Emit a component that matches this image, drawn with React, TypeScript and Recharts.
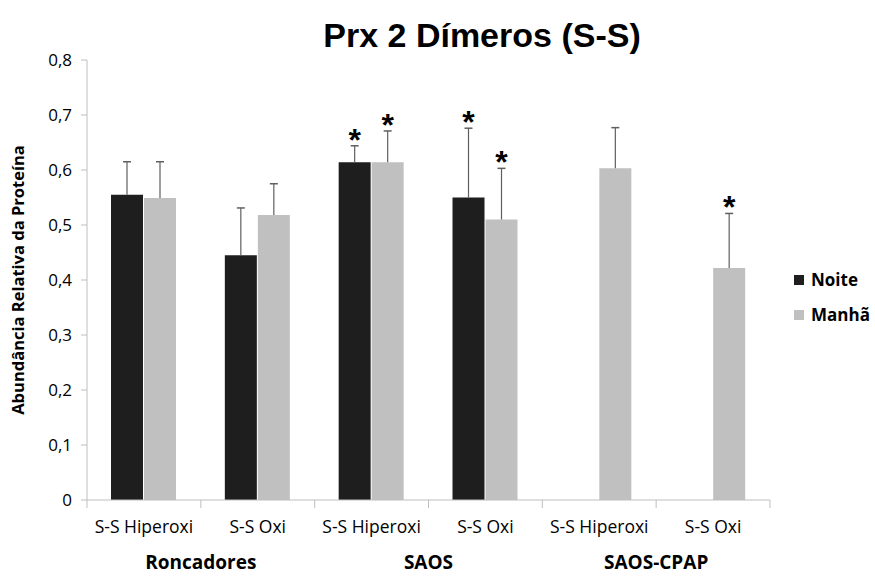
import { Bar, BarChart, LabelList, Label, XAxis, YAxis } from "recharts";

const categories = ["S-S Hiperoxi", "S-S Oxi", "S-S Hiperoxi", "S-S Oxi", "S-S Hiperoxi", "S-S Oxi"];
const groups = ["Roncadores", "SAOS", "SAOS-CPAP"];

const noite = [0.555, 0.445, 0.614, 0.55, null, null];
const noiteErr = [0.06, 0.086, 0.03, 0.126, null, null];
const noiteSig = [false, false, true, true, false, false];

const manha = [0.549, 0.518, 0.614, 0.51, 0.603, 0.422];
const manhaErr = [0.066, 0.057, 0.057, 0.093, 0.074, 0.099];
const manhaSig = [false, false, true, true, false, true];

const yTicks = [0, 0.1, 0.2, 0.3, 0.4, 0.5, 0.6, 0.7, 0.8];

const data = categories.map((cat, i) => ({
  cat,
  noite: noite[i],
  manha: manha[i],
}));

const W = 875;
const H = 576;
const LEFT = 87;
const RIGHT = 105;
const CAT_W = (W - LEFT - RIGHT) / categories.length;

const tickFont = "'Open Sans', 'Noto Sans', sans-serif";

const fmt = (v: number) => (v === 0 ? "0" : v.toFixed(1).replace(".", ","));

function XTick(props: any) {
  const { x, y, payload, index } = props;
  const half = CAT_W / 2;
  return (
    <g>
      <line x1={x - half} x2={x - half} y1={y} y2={y + 8} stroke="#bfbfbf" />
      {index === categories.length - 1 && (
        <line x1={x + half} x2={x + half} y1={y} y2={y + 8} stroke="#bfbfbf" />
      )}
      <text x={x} y={y + 33} textAnchor="middle" fontFamily={tickFont} fontSize={17.5} fill="#000">
        {payload.value}
      </text>
      {index % 2 === 0 && (
        <text
          x={x + half}
          y={y + 69}
          textAnchor="middle"
          fontFamily={tickFont}
          fontWeight="bold"
          fontSize={19}
          fill="#000"
        >
          {groups[index / 2]}
        </text>
      )}
    </g>
  );
}

function makeErr(errs: (number | null)[], sig: boolean[]) {
  return (props: any) => {
    const { x, y, width, height, value, index } = props;
    const err = errs[index];
    if (value == null || err == null || !height) return null;
    const cx = x + width / 2;
    const top = y - (err * height) / value;
    return (
      <g>
        <line x1={cx} x2={cx} y1={y} y2={top} stroke="#5f5f5f" strokeWidth={1.2} />
        <line x1={cx - 4} x2={cx + 4} y1={top} y2={top} stroke="#5f5f5f" strokeWidth={1.5} />
        {sig[index] && (
          <text
            x={cx}
            y={top + 5}
            textAnchor="middle"
            fontFamily="'Liberation Sans', Arial, sans-serif"
            fontWeight="bold"
            fontSize={32}
            fill="#000"
          >
            *
          </text>
        )}
      </g>
    );
  };
}

const legendItems = [
  { name: "Noite", color: "#1e1e1e" },
  { name: "Manhã", color: "#c0c0c0" },
];

export default function App() {
  return (
    <div style={{ position: "absolute", left: 0, top: 0, width: W, height: H, background: "#fff" }}>
      <div
        style={{
          position: "absolute",
          left: 0,
          top: 0,
          width: 964,
          textAlign: "center",
          fontFamily: "'Liberation Sans', Arial, sans-serif",
          fontWeight: "bold",
          fontSize: 34,
          lineHeight: "34px",
          paddingTop: 18,
        }}
      >
        Prx 2 Dímeros (S-S)
      </div>
      <div style={{ position: "absolute", left: 794, top: 262 }}>
        {legendItems.map((it) => (
          <div key={it.name} style={{ display: "flex", alignItems: "center", height: 35 }}>
            <span style={{ width: 10, height: 10, background: it.color, marginRight: 7, display: "inline-block" }} />
            <span style={{ fontFamily: tickFont, fontWeight: "bold", fontSize: 17, color: "#000" }}>{it.name}</span>
          </div>
        ))}
      </div>
      <BarChart
        width={W}
        height={H}
        data={data}
        margin={{ top: 60, right: RIGHT, left: 0, bottom: 0 }}
        barSize={32}
        barGap={1}
        style={{ position: "absolute", left: 0, top: 0 }}
      >
        <XAxis
          dataKey="cat"
          interval={0}
          height={76}
          tickLine={false}
          tickSize={0}
          tickMargin={0}
          stroke="#bfbfbf"
          tick={<XTick />}
        />
        <YAxis
          width={LEFT}
          domain={[0, 0.8]}
          ticks={yTicks}
          tickFormatter={fmt}
          stroke="#bfbfbf"
          tickSize={6}
          tickMargin={9}
          tick={{ fill: "#000", fontFamily: tickFont, fontSize: 17 }}
        >
          <Label
            value="Abundância Relativa da Proteína"
            angle={-90}
            position="insideLeft"
            offset={18}
            style={{ textAnchor: "middle", fontFamily: tickFont, fontWeight: "bold", fontSize: 16.5, fill: "#000" }}
          />
        </YAxis>
        <Bar dataKey="noite" name="Noite" fill="#1e1e1e" isAnimationActive={false}>
          <LabelList dataKey="noite" content={makeErr(noiteErr, noiteSig)} />
        </Bar>
        <Bar dataKey="manha" name="Manhã" fill="#c0c0c0" isAnimationActive={false}>
          <LabelList dataKey="manha" content={makeErr(manhaErr, manhaSig)} />
        </Bar>
      </BarChart>
    </div>
  );
}
